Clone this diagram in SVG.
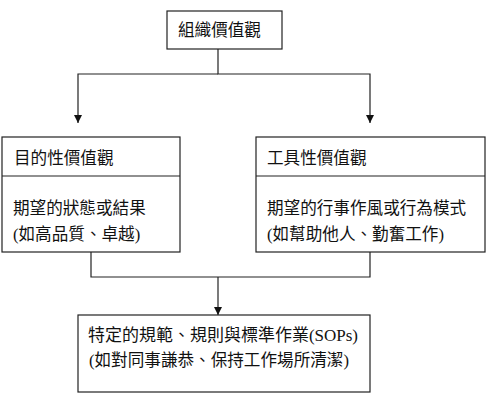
<svg xmlns="http://www.w3.org/2000/svg" width="489" height="402" viewBox="0 0 489 402">
<style>
.box{fill:#fff;stroke:#222;stroke-width:1.2}
.ln{fill:none;stroke:#222;stroke-width:1.2}
.t{font-family:"Liberation Serif","Noto Sans CJK TC",serif;font-size:16.6px;fill:#111}
</style>
<defs>
<marker id="arr" viewBox="0 0 10 10" refX="10" refY="5" markerWidth="8" markerHeight="8" markerUnits="userSpaceOnUse" orient="auto">
<path d="M0,0 L10,5 L0,10 Z" fill="#111"/>
</marker>
</defs>
<rect width="489" height="402" fill="#fff"/>
<g id="connectors">
<path class="ln" d="M218,49 V74 H370 V123" marker-end="url(#arr)"/>
<path class="ln" d="M218,74 H78 V123" marker-end="url(#arr)"/>
<path class="ln" d="M91,252 V277 H370 V252"/>
<path class="ln" d="M218,277 V315" marker-end="url(#arr)"/>
</g>
<g id="org-values">
<rect class="box" x="167" y="11" width="115" height="38"/>
<text class="t" x="178" y="36">組織價值觀</text>
</g>
<g id="terminal-values">
<rect class="box" x="2" y="137" width="178" height="115"/>
<line class="ln" x1="2" y1="176" x2="180" y2="176"/>
<text class="t" x="14" y="164">目的性價值觀</text>
<text class="t" x="13" y="214">期望的狀態或結果</text>
<text class="t" x="13" y="240">(如高品質、卓越)</text>
</g>
<g id="instrumental-values">
<rect class="box" x="256" y="137" width="229" height="115"/>
<line class="ln" x1="256" y1="176" x2="485" y2="176"/>
<text class="t" x="267" y="164">工具性價值觀</text>
<text class="t" x="267" y="214">期望的行事作風或行為模式</text>
<text class="t" x="267" y="240">(如幫助他人、勤奮工作)</text>
</g>
<g id="norms">
<rect class="box" x="78" y="315" width="292" height="77"/>
<text class="t" x="88" y="341" textLength="270" lengthAdjust="spacingAndGlyphs">特定的規範、規則與標準作業(SOPs)</text>
<text class="t" x="89" y="366">(如對同事謙恭、保持工作場所清潔)</text>
</g>
</svg>
